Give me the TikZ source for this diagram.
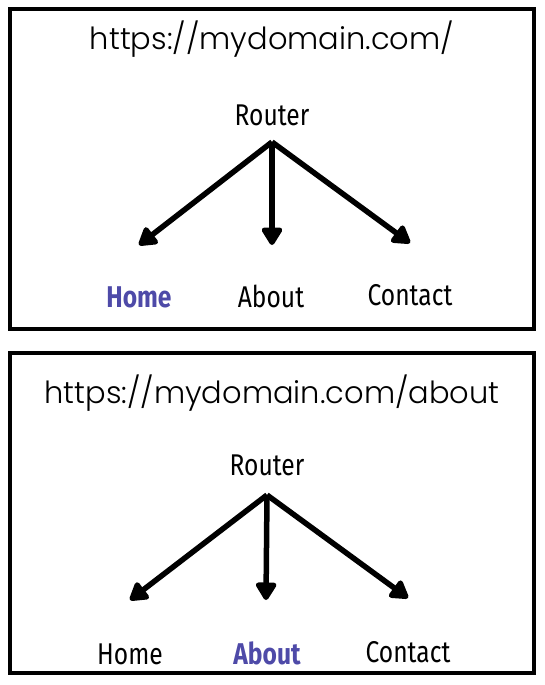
\documentclass[tikz,border=0pt]{standalone}
\usepackage{fontspec}
\setmainfont{Fira Sans}
\newfontfamily\urlfont{Poppins Light}
\newfontfamily\pagefont[FakeStretch=0.82]{Fira Sans}
\usetikzlibrary{arrows.meta}
\definecolor{activeblue}{RGB}{78,74,168}

\begin{document}
\begin{tikzpicture}[x=1pt, y=-1pt,
        frame/.style={rectangle, draw, line width=4pt, minimum width=524pt, minimum height=320pt},
        url/.style={anchor=base, inner sep=0pt, font=\urlfont\fontsize{30.5}{36}\selectfont},
        page/.style={anchor=base, inner sep=0pt, font=\pagefont\fontsize{30}{36}\selectfont},
        active/.style={page, font=\pagefont\bfseries\fontsize{30}{36}\selectfont, text=activeblue},
        arrow/.style={-{Triangle[round, length=20pt, width=23pt]}, line width=5.5pt}
    ]
        \useasboundingbox (0,0) rectangle (544,685);

        % first frame: home page
        \node[frame] (rootframe) at (272,169) {};
        \node[url] (rooturl) at (272,50) {https://mydomain.com/};
        \node[page] (rootrouter) at (272,125) {Router};
        \node[active] (roothome) at (139,307) {Home};
        \node[page] (rootabout) at (271,307) {About};
        \node[page] (rootcontact) at (410,305) {Contact};

        \coordinate (rootfork) at (272,142);
        \coordinate (roothometip) at (139,245);
        \coordinate (rootabouttip) at (272,245);
        \coordinate (rootcontacttip) at (410,243);

        \draw[arrow] (rootfork) -- (roothometip);
        \draw[arrow] (rootfork) -- (rootabouttip);
        \draw[arrow] (rootfork) -- (rootcontacttip);

        % second frame: about page
        \node[frame] (aboutframe) at (272,513) {};
        \node[url] (abouturl) at (272,403) {https://mydomain.com/about};
        \node[page] (aboutrouter) at (267,475) {Router};
        \node[page] (abouthome) at (130,664) {Home};
        \node[active] (aboutabout) at (267,664) {About};
        \node[page] (aboutcontact) at (408,662) {Contact};

        \coordinate (aboutfork) at (267,495);
        \coordinate (abouthometip) at (130,600);
        \coordinate (aboutabouttip) at (266,600);
        \coordinate (aboutcontacttip) at (408,598);

        \draw[arrow] (aboutfork) -- (abouthometip);
        \draw[arrow] (aboutfork) -- (aboutabouttip);
        \draw[arrow] (aboutfork) -- (aboutcontacttip);
    \end{tikzpicture}
\end{document}
